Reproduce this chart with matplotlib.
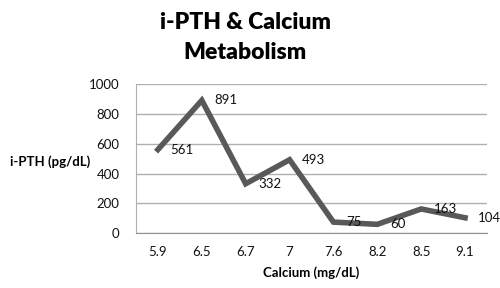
import matplotlib
matplotlib.use('Agg')
import matplotlib.pyplot as plt
import numpy as np

plt.rcParams['font.family'] = ['Lato', 'DejaVu Sans']

calcium = ['5.9', '6.5', '6.7', '7', '7.6', '8.2', '8.5', '9.1']
ipth = [561, 891, 332, 493, 75, 60, 163, 104]

fig = plt.figure(figsize=(5, 2.88), dpi=100)
ax = fig.add_axes([0.272, 0.19, 0.702, 0.518])

x = np.arange(len(calcium))
ax.plot(x, ipth, color='#595959', linewidth=4, solid_joinstyle='miter', zorder=3)

# data labels to the right of each point
for xi, yi in zip(x, ipth):
    ax.annotate(str(yi), (xi, yi), xytext=(9, 0), textcoords='offset points',
                ha='left', va='center', fontsize=9.5, color='#111111', zorder=4)

ax.set_xlim(-0.5, len(calcium) - 0.5)
ax.set_ylim(0, 1000)
ax.set_yticks(range(0, 1001, 200))
ax.set_xticks(x, calcium)
ax.tick_params(length=0, labelsize=9.5, colors='#111111')
ax.tick_params(axis='x', pad=9)
ax.tick_params(axis='y', pad=12)
ax.grid(axis='y', color='#b0b0b0', linewidth=1)
ax.set_axisbelow(True)
for s in ['top', 'right']:
    ax.spines[s].set_visible(False)
ax.spines['left'].set_color('#b0b0b0')
ax.spines['bottom'].set_color('#909090')

ax.set_ylabel('i-PTH (pg/dL)', fontsize=9.5, fontweight='bold', rotation=0,
              ha='center', va='center', labelpad=0)
ax.yaxis.set_label_coords(-0.245, 0.477)
ax.set_xlabel('Calcium (mg/dL)', fontsize=9.5, fontweight='bold', labelpad=6)

fig.text(0.49, 0.87, 'i-PTH & Calcium\nMetabolism', ha='center', va='center',
         fontsize=16.5, fontweight='heavy', linespacing=1.5)

fig.savefig('out.png', dpi=100)
